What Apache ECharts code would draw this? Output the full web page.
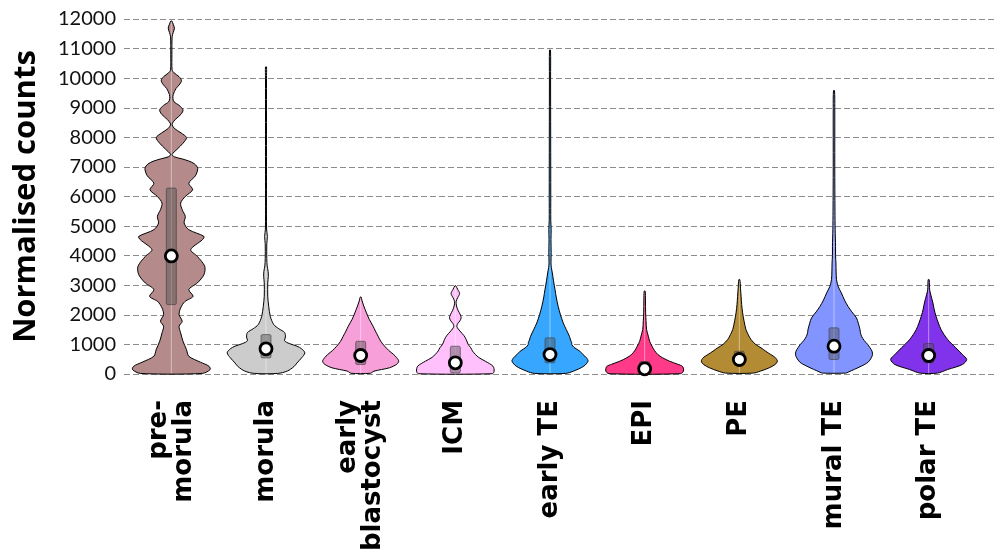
<!DOCTYPE html>
<html>
<head>
<meta charset="utf-8">
<title>Normalised counts</title>
<script src="https://cdn.jsdelivr.net/npm/echarts@6/dist/echarts.min.js"></script>
<style type="text/css">
    *{margin:0;padding:0;}
    body{background:#fff;overflow:hidden;}
</style>
</head>
<body>
<div id="main" style="width:995px;height:554px;"></div>
<script type="text/javascript">
// categories along x
var categories = ['pre-\nmorula', 'morula', 'early\nblastocyst', 'ICM', 'early TE', 'EPI', 'PE', 'mural TE', 'polar TE'];

// violin outlines: [value, relative half width (1 = widest)]
var preMorula = [[20,0.8],[150,1.0],[263,0.97],[400,0.75],[600,0.45],[827,0.39],[1107,0.3],[1390,0.24],[1614,0.2],[1782,0.28],[2008,0.2],[2234,0.24],[2450,0.35],[2626,0.56],[2852,0.45],[3078,0.67],[3359,0.84],[3640,0.86],[3976,0.67],[4203,0.5],[4540,0.8],[4652,0.84],[4878,0.45],[5103,0.33],[5327,0.36],[5553,0.28],[5779,0.24],[6002,0.36],[6228,0.55],[6450,0.45],[6700,0.62],[6950,0.68],[7100,0.6],[7200,0.45],[7280,0.25],[7340,0.08],[7420,0.02],[7600,0.15],[7800,0.3],[7990,0.39],[8150,0.25],[8300,0.08],[8420,0.02],[8480,0.03],[8600,0.1],[8780,0.25],[8930,0.3],[9080,0.2],[9200,0.07],[9320,0.04],[9450,0.05],[9650,0.12],[9800,0.22],[9930,0.26],[10050,0.2],[10180,0.07],[10280,0.02],[10800,0.015],[11400,0.02],[11550,0.05],[11690,0.08],[11820,0.05],[11930,0]];
var morula = [[20,0.3],[100,0.55],[250,0.72],[375,0.8],[550,0.92],[715,1.0],[850,0.92],[940,0.8],[1030,0.6],[1120,0.48],[1250,0.5],[1400,0.48],[1530,0.33],[1670,0.2],[1950,0.11],[2290,0.07],[2630,0.045],[3080,0.045],[3300,0.06],[3470,0.055],[3650,0.03],[3900,0.02],[4400,0.02],[4650,0.035],[4900,0.015],[7000,0.012],[10000,0.01],[10380,0]];
var earlyBlastocyst = [[25,0.25],[95,0.34],[210,0.74],[330,0.93],[433,0.98],[550,0.93],[658,0.85],[800,0.72],[938,0.62],[1100,0.52],[1276,0.45],[1450,0.38],[1614,0.32],[1850,0.22],[2066,0.15],[2300,0.08],[2500,0.03],[2600,0]];
var icm = [[10,0.95],[95,1.0],[264,0.97],[433,0.77],[560,0.6],[658,0.52],[780,0.44],[884,0.4],[1000,0.33],[1165,0.28],[1300,0.22],[1450,0.12],[1600,0.04],[1700,0.06],[1800,0.12],[1900,0.15],[2000,0.13],[2150,0.07],[2300,0.03],[2450,0.02],[2580,0.06],[2720,0.11],[2860,0.06],[2980,0]];
var earlyTE = [[20,0.4],[95,0.6],[264,0.87],[433,0.98],[546,0.94],[658,0.85],[770,0.77],[900,0.62],[1000,0.56],[1053,0.56],[1150,0.53],[1276,0.5],[1500,0.42],[1728,0.34],[2000,0.27],[2289,0.21],[2600,0.16],[2852,0.13],[3150,0.09],[3416,0.06],[3600,0.035],[3753,0.025],[4100,0.03],[4540,0.025],[4877,0.03],[5200,0.02],[6000,0.02],[10000,0.015],[10950,0]];
var epi = [[10,0.92],[100,1.0],[250,0.98],[330,0.85],[433,0.64],[550,0.46],[658,0.34],[800,0.25],[940,0.19],[1100,0.13],[1276,0.095],[1500,0.05],[1800,0.035],[2066,0.025],[2500,0.02],[2800,0]];
var pe = [[30,0.35],[100,0.55],[210,0.77],[320,0.92],[433,0.98],[550,0.93],[658,0.81],[770,0.68],[884,0.56],[1000,0.42],[1165,0.3],[1330,0.23],[1502,0.17],[1800,0.12],[2066,0.085],[2350,0.06],[2627,0.045],[2900,0.03],[3190,0]];
var muralTE = [[30,0.3],[60,0.36],[264,0.7],[400,0.88],[546,0.96],[650,0.99],[770,0.98],[900,0.92],[996,0.87],[1130,0.78],[1276,0.71],[1400,0.68],[1502,0.67],[1700,0.63],[1896,0.58],[2100,0.46],[2289,0.36],[2500,0.27],[2740,0.19],[2950,0.11],[3190,0.065],[3450,0.055],[3753,0.05],[4000,0.04],[4315,0.04],[4877,0.03],[5500,0.025],[7000,0.02],[9000,0.02],[9580,0]];
var polarTE = [[30,0.22],[152,0.49],[320,0.87],[490,0.98],[658,0.87],[884,0.7],[1165,0.49],[1502,0.32],[1951,0.19],[2200,0.14],[2402,0.11],[2700,0.05],[2852,0.025],[3000,0.02],[3190,0]];

// box (25% / 75%) and median
var q1 = [2346, 545, 320, 40, 378, 50, 320, 490, 378];
var q3 = [6285, 1333, 1107, 940, 1222, 420, 770, 1560, 1030];
var medians = [3990, 850, 625, 378, 658, 175, 490, 940, 625];

var violins = [preMorula, morula, earlyBlastocyst, icm, earlyTE, epi, pe, muralTE, polarTE];
var colors = ['#b48a8a', '#cbcccb', '#f79fd8', '#ffc0fb', '#36a6ff', '#ff3a88', '#b38b34', '#8294ff', '#8133eb'];

var myChart = echarts.init(document.getElementById('main'));

function renderViolin(params, api) {
    var i = api.value(0);
    var prof = violins[i];
    var band = api.size([1, 0])[0];
    var maxHalf = band * 0.41;
    var right = [], left = [];
    for (var k = 0; k < prof.length; k++) {
        var p = api.coord([i, prof[k][0]]);
        var w = Math.max(prof[k][1] * maxHalf, 0.5);
        right.push([p[0] + w, p[1]]);
        left.unshift([p[0] - w, p[1]]);
    }
    var pts = right.concat(left);
    var cx = api.coord([i, 0])[0];
    var yMin = api.coord([i, prof[0][0]])[1];
    var yMax = api.coord([i, prof[prof.length - 1][0]])[1];
    var b1 = api.coord([i, q1[i]]);
    var b3 = api.coord([i, q3[i]]);
    var m = api.coord([i, medians[i]]);
    return {
        type: 'group',
        children: [
            {type: 'polygon', shape: {points: pts, smooth: 0.3}, style: {fill: colors[i], stroke: null}},
            {type: 'line', shape: {x1: cx, y1: yMin, x2: cx, y2: yMax}, style: {stroke: 'rgba(255,255,255,0.45)', lineWidth: 1}},
            {type: 'rect', shape: {x: cx - 5, y: b3[1], width: 10, height: b1[1] - b3[1], r: 1.5},
                style: {fill: 'rgba(80,80,80,0.45)', stroke: 'rgba(60,60,60,0.6)', lineWidth: 1}},
            {type: 'polygon', shape: {points: pts, smooth: 0.3}, style: {fill: null, stroke: '#000', lineWidth: 1}},
            {type: 'circle', shape: {cx: cx, cy: m[1], r: 6}, style: {fill: '#fff', stroke: '#000', lineWidth: 2.8}}
        ]
    };
}

var option = {
    backgroundColor: '#fff',
    animation: false,
    grid: [
        {left: 124, right: 0, top: 19, bottom: 180, outerBoundsMode: 'none'},
        {left: 124, right: 19, top: 19, bottom: 180, outerBoundsMode: 'none'}
    ],
    xAxis: [
        {
            gridIndex: 0, type: 'category', data: categories,
            axisLine: {show: false}, axisTick: {show: false}, axisLabel: {show: false}, splitLine: {show: false}
        },
        {
            gridIndex: 1, type: 'category', data: categories,
            axisLine: {show: false}, axisTick: {show: false}, splitLine: {show: false},
            axisLabel: {
                interval: 0, rotate: 90, margin: 26,
                fontFamily: 'DejaVu Sans', fontWeight: 'bold', fontSize: 26, lineHeight: 25, color: '#000'
            }
        }
    ],
    yAxis: [
        {
            gridIndex: 0, type: 'value', min: 0, max: 12000, interval: 1000,
            name: 'Normalised counts', nameLocation: 'middle', nameGap: 82,
            nameTextStyle: {fontFamily: 'Open Sans', fontWeight: 'bold', fontSize: 31, color: '#000'},
            axisLine: {show: false}, axisTick: {show: false},
            axisLabel: {
                fontFamily: 'Lato', fontSize: 20, color: '#111', margin: 8,
                formatter: function (v) { return String(v); }
            },
            splitLine: {show: true, lineStyle: {color: '#8c8c8c', width: 1, type: [6, 3]}}
        },
        {
            gridIndex: 1, type: 'value', min: 0, max: 12000, interval: 1000,
            axisLine: {show: false}, axisTick: {show: false}, axisLabel: {show: false}, splitLine: {show: false}
        }
    ],
    series: [{
        type: 'custom',
        xAxisIndex: 1,
        yAxisIndex: 1,
        renderItem: renderViolin,
        data: categories.map(function (c, i) { return [i]; })
    }]
};

myChart.setOption(option);
</script>
</body>
</html>
